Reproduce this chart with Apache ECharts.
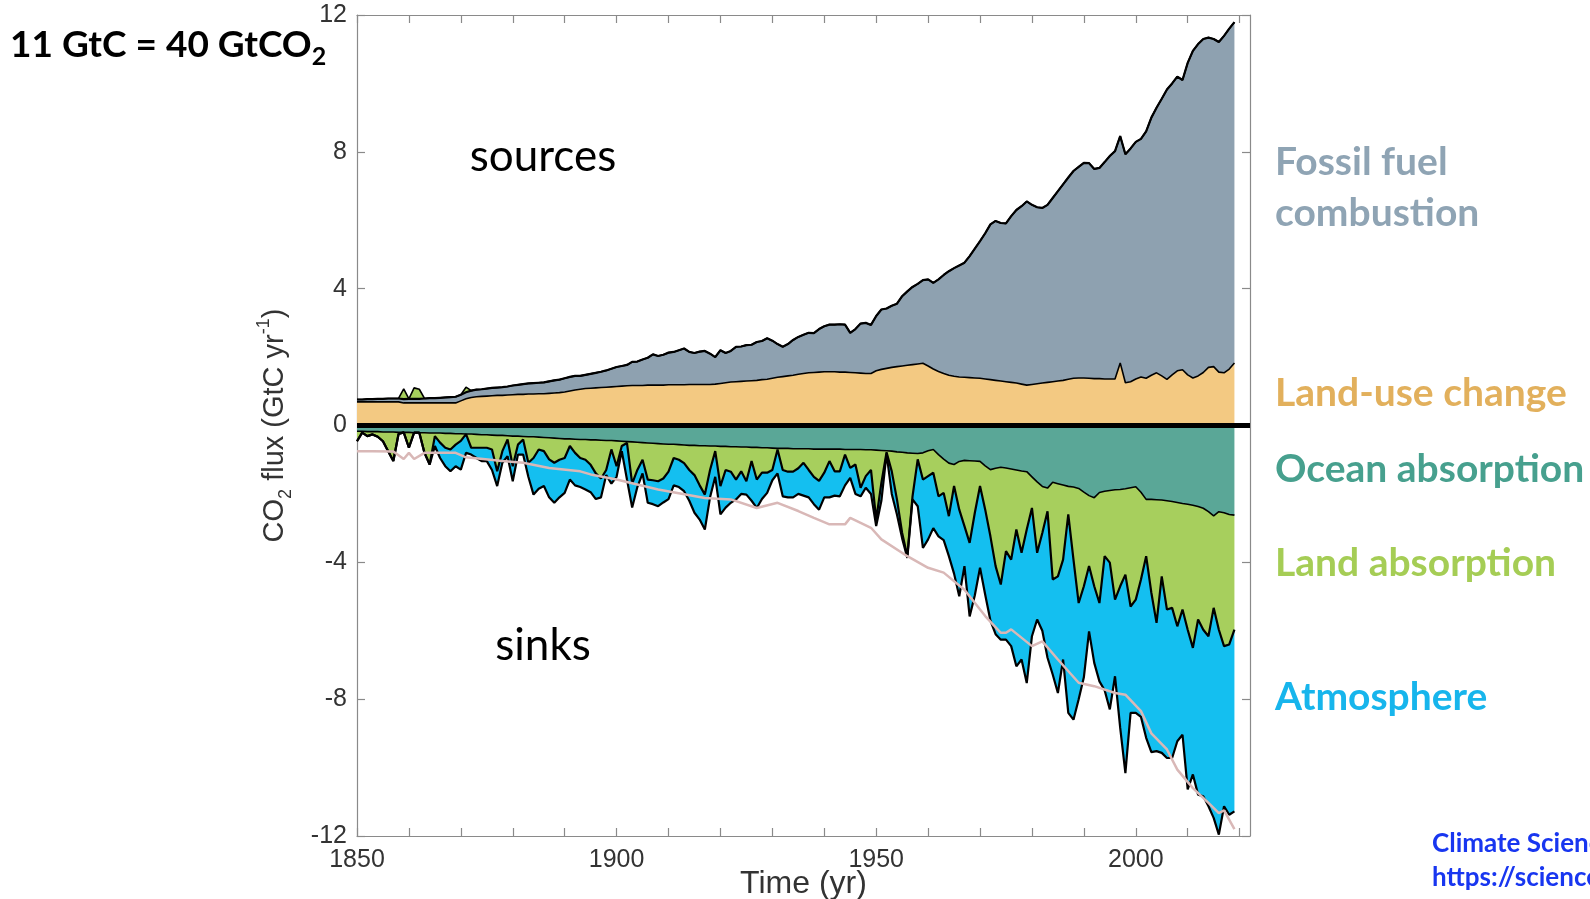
<!DOCTYPE html>
<html><head><meta charset="utf-8">
<script src="https://cdn.jsdelivr.net/npm/echarts@6.0.0/dist/echarts.min.js"></script>
<style>html,body{margin:0;padding:0;background:#fff;}#chart{width:1590px;height:899px;}</style>
</head><body><div id="chart"></div>
<script>
// ---------- data (GtC per year), 1850..2019 ----------
const startYear = 1850;
const axisEndYear = 2022;

const fossilFuel = [
 .07,.07,.08,.08,.09,.09,.10,.10,.10,.11,
 .12,.12,.12,.13,.14,.14,.15,.16,.17,.18,
 .18,.19,.20,.21,.21,.22,.23,.23,.24,.25,
 .27,.28,.30,.31,.32,.32,.33,.35,.37,.38,
 .40,.41,.41,.39,.40,.42,.44,.46,.49,.53,
 .57,.59,.61,.69,.70,.76,.80,.90,.85,.89,
 .94,.96,1.01,1.06,.95,.92,.96,.98,.90,.79,
 .97,.87,.91,1.02,1.02,1.05,1.05,1.12,1.13,1.20,
 1.10,.97,.87,.93,1.03,1.09,1.13,1.17,1.15,1.26,
 1.33,1.38,1.38,1.40,1.39,1.16,1.28,1.45,1.48,1.42,
 1.60,1.75,1.75,1.80,1.84,2.04,2.16,2.27,2.34,2.43,
 2.53,2.52,2.69,2.88,3.04,3.16,3.26,3.35,3.55,3.78,
 4.01,4.26,4.54,4.66,4.62,4.63,4.86,5.06,5.20,5.37,
 5.25,5.16,5.12,5.19,5.37,5.55,5.73,5.90,6.06,6.17,
 6.29,6.29,6.13,6.16,6.34,6.52,6.66,6.63,6.68,6.82,
 6.93,6.96,7.22,7.53,7.75,8.10,8.47,8.52,8.60,8.47,
 9.12,9.56,9.70,9.75,9.64,9.58,9.65,9.85,9.95,9.96
];
const landUse = [
 .69,.69,.69,.69,.69,.69,.69,.69,.69,.66,
 .66,.66,.66,.66,.66,.66,.66,.66,.66,.66,
 .72,.78,.82,.84,.85,.86,.87,.88,.88,.89,
 .90,.91,.91,.92,.92,.93,.93,.94,.95,.96,
 .98,1.01,1.04,1.06,1.08,1.09,1.10,1.11,1.12,1.13,
 1.14,1.15,1.16,1.17,1.17,1.17,1.18,1.18,1.18,1.18,
 1.19,1.19,1.19,1.19,1.20,1.20,1.20,1.20,1.20,1.21,
 1.23,1.25,1.27,1.28,1.29,1.30,1.31,1.32,1.34,1.35,
 1.38,1.41,1.43,1.45,1.47,1.50,1.52,1.54,1.55,1.56,
 1.57,1.57,1.57,1.56,1.56,1.55,1.54,1.53,1.52,1.52,
 1.60,1.64,1.67,1.70,1.72,1.74,1.76,1.78,1.80,1.82,
 1.74,1.65,1.58,1.52,1.47,1.44,1.42,1.41,1.40,1.39,
 1.38,1.36,1.34,1.32,1.30,1.28,1.26,1.24,1.21,1.18,
 1.20,1.22,1.24,1.26,1.28,1.30,1.32,1.35,1.38,1.39,
 1.39,1.38,1.37,1.37,1.36,1.36,1.36,1.83,1.25,1.28,
 1.36,1.42,1.38,1.47,1.54,1.45,1.35,1.48,1.60,1.63,
 1.48,1.39,1.45,1.55,1.70,1.72,1.56,1.54,1.65,1.83
];
// years in which the land acted as a source (drawn above the emissions)
const landSourceYears = [1859, 1861, 1862, 1871];
const landSourceValues = [0.30, 0.32, 0.28, 0.15];

const oceanSink = [
 -.17,-.17,-.18,-.18,-.18,-.19,-.19,-.19,-.20,-.20,
 -.20,-.21,-.21,-.21,-.22,-.22,-.22,-.23,-.23,-.24,
 -.24,-.25,-.25,-.26,-.27,-.27,-.28,-.29,-.29,-.30,
 -.31,-.31,-.32,-.33,-.33,-.34,-.35,-.36,-.37,-.38,
 -.39,-.39,-.40,-.41,-.41,-.42,-.42,-.43,-.44,-.44,
 -.45,-.46,-.47,-.48,-.49,-.50,-.51,-.52,-.53,-.54,
 -.55,-.55,-.56,-.57,-.58,-.58,-.59,-.59,-.60,-.60,
 -.61,-.61,-.62,-.62,-.63,-.63,-.64,-.64,-.65,-.65,
 -.66,-.67,-.67,-.67,-.68,-.68,-.68,-.68,-.69,-.69,
 -.69,-.69,-.69,-.69,-.70,-.70,-.70,-.70,-.71,-.71,
 -.72,-.73,-.74,-.75,-.77,-.78,-.80,-.81,-.82,-.80,
 -.74,-.70,-.85,-.98,-1.10,-1.14,-1.05,-1.02,-1.03,-1.04,
 -1.05,-1.18,-1.29,-1.25,-1.22,-1.24,-1.27,-1.30,-1.33,-1.35,
 -1.50,-1.65,-1.78,-1.83,-1.66,-1.70,-1.74,-1.78,-1.80,-1.84,
 -1.95,-2.05,-2.11,-1.96,-1.92,-1.90,-1.88,-1.87,-1.85,-1.82,
 -1.79,-1.95,-2.16,-2.16,-2.17,-2.18,-2.20,-2.22,-2.25,-2.28,
 -2.30,-2.33,-2.37,-2.42,-2.52,-2.64,-2.52,-2.55,-2.60,-2.62
];
const landSink = [
 -.29,-.04,-.13,-.08,-.15,-.27,-.56,-.85,-.05,0,
 -.45,0,0,-.59,-.92,-.09,-.28,-.42,-.47,-.32,
 -.21,0,-.40,-.39,-.38,-.38,-.42,-1.05,-.46,-.11,
 -.88,-.25,-.09,-.76,-.62,-.36,-.40,-.63,-.72,-.62,
 -.56,-.21,-.40,-.54,-.59,-.73,-.98,-1.12,-.86,-.26,
 -.74,-.14,-.04,-1.22,-.81,-.50,-1.07,-1.08,-1.10,-1.01,
 -.80,-.40,-.44,-.53,-.72,-.87,-1.16,-1.43,-.70,-.15,
 -1.16,-.69,-.73,-.96,-.71,-1.00,-.40,-.94,-.73,-.73,
 -.64,-.03,-.63,-.68,-.67,-.57,-.41,-.62,-.81,-.93,
 -.69,-.35,-.65,-.65,-.15,-.54,-.44,-1.12,-.77,-.59,
 -2.03,-.95,-.04,-.59,-1.39,-2.36,-3.02,-1.26,-.17,-.78,
 -.74,-.68,-1.22,-.99,-1.55,-.63,-1.41,-1.92,-2.40,-1.51,
 -.72,-1.28,-1.95,-2.86,-3.43,-2.43,-2.65,-1.74,-2.39,-1.69,
 -.91,-2.07,-1.36,-.68,-2.84,-2.71,-2.18,-.82,-2.12,-3.35,
 -2.75,-2.06,-2.59,-3.23,-1.90,-2.11,-3.21,-2.83,-2.51,-3.47,
 -3.30,-2.55,-1.66,-2.73,-3.60,-2.23,-3.18,-3.11,-3.62,-3.10,
 -3.67,-4.17,-3.30,-3.55,-3.64,-2.69,-3.45,-3.90,-3.80,-3.35
];
const atmosphere = [
 0,0,0,0,0,0,0,0,0,0,
 0,0,0,0,0,-.29,-.45,-.54,-.64,-.63,
 -.84,-.55,-.20,-.30,-.39,-.39,-.60,-.43,-.34,-.49,
 -.44,-.29,-.44,-.41,-1.07,-1.15,-1.02,-1.11,-1.17,-1.10,
 -1.02,-.98,-.95,-.85,-.87,-.80,-.75,-.55,-.15,-1.00,
 -.31,-.15,-1.07,-.70,-.50,-.40,-.68,-.70,-.73,-.70,
 -.80,-.80,-.80,-.82,-.90,-1.10,-1.00,-1.02,-.80,-.75,
 -.83,-1.10,-.91,-.58,-.66,-.39,-1.16,-.83,-.77,-.59,
 -.30,-.70,-.77,-.75,-.75,-.75,-.96,-.80,-.80,-.84,
 -.72,-1.06,-.71,-.73,-.90,-.29,-.86,-.25,-.34,-.70,
 -.19,-.52,-.04,-.66,-.44,-.16,-.05,-.09,-1.37,-2.00,
 -1.85,-1.62,-1.17,-1.38,-1.17,-2.56,-2.53,-1.17,-2.15,-2.41,
 -2.39,-2.49,-2.46,-1.99,-1.61,-2.59,-2.53,-4.00,-3.12,-4.49,
 -3.75,-1.95,-2.86,-4.28,-2.78,-3.41,-2.92,-5.80,-4.68,-2.81,
 -2.66,-1.91,-2.24,-2.29,-3.92,-4.29,-2.24,-4.14,-5.80,-3.11,
 -3.31,-4.02,-5.31,-4.66,-3.75,-5.16,-4.34,-4.39,-3.36,-3.66,
 -4.67,-3.70,-5.12,-4.87,-4.97,-6.14,-5.99,-4.68,-4.98,-5.31
];
// mirrored total emissions (light line in the sinks)
const mirrorYears = [1850,1853,1857,1859,1860,1861,1863,1869,1871,1878,1882,1887,1893,1895,1900,1908,1917,1922,1927,1931,1935,1938,1941,1944,1945,1949,1951,1956,1960,1963,1967,1971,1974,1975,1976,1980,1982,1985,1989,1992,1996,1998,2001,2003,2006,2008,2011,2014,2016,2017,2019];
const mirrorValues = [-0.75,-0.75,-0.76,-0.98,-0.80,-0.98,-0.80,-0.80,-0.93,-1.04,-1.09,-1.24,-1.34,-1.43,-1.58,-1.87,-2.12,-2.16,-2.41,-2.26,-2.50,-2.70,-2.89,-2.89,-2.70,-2.99,-3.33,-3.82,-4.16,-4.30,-4.80,-5.57,-6.06,-6.06,-5.96,-6.45,-6.31,-6.84,-7.52,-7.62,-7.82,-7.87,-8.35,-9.00,-9.47,-10.06,-10.60,-11.03,-11.33,-11.25,-11.80];

const yTicks = [-12, -8, -4, 0, 4, 8, 12];

// ---------- build ----------
const categories = [];
for (let y = startYear; y <= axisEndYear; y++) categories.push(String(y));
const landSource = fossilFuel.map((_, i) => {
  const k = landSourceYears.indexOf(startYear + i);
  return k >= 0 ? landSourceValues[k] : 0;
});
const mirrorData = mirrorYears.map((y, i) => [String(y), mirrorValues[i]]);

const AX = '#8a8a8a';
const TXT = '#333333';
const tickEvery10 = (i, v) => Number(v) % 10 === 0;
const common = {
  axisLine: { show: true, onZero: false, lineStyle: { color: AX, width: 1.2 } },
  axisTick: { show: true, inside: true, length: 8, lineStyle: { color: AX, width: 1.2 } },
  splitLine: { show: false }
};

function area(name, data, color, stack, lw) {
  return {
    name, type: 'line', data, stack, stackStrategy: 'all', symbol: 'none', showSymbol: false,
    lineStyle: { color: '#000', width: lw }, areaStyle: { color, opacity: 1 },
    emphasis: { disabled: true }, silent: true
  };
}

const LABEL_FONT = 39;
const chart = echarts.init(document.getElementById('chart'), null, { renderer: 'canvas' });
chart.setOption({
  animation: false,
  backgroundColor: '#fff',
  grid: { left: 357, right: 340, top: 15, bottom: 63, containLabel: false, outerBoundsMode: 'none' },
  xAxis: [
    Object.assign({}, common, {
      type: 'category', data: categories, boundaryGap: false, position: 'bottom',
      axisTick: Object.assign({}, common.axisTick, { interval: tickEvery10 }),
      axisLabel: { interval: (i, v) => Number(v) % 50 === 0, fontSize: 25, color: TXT, margin: 12, fontFamily: 'Liberation Sans' },
      name: 'Time (yr)', nameLocation: 'middle', nameGap: 32, nameMoveOverlap: false,
      nameTextStyle: { fontSize: 32, color: TXT, fontFamily: 'Liberation Sans' }
    }),
    Object.assign({}, common, {
      type: 'category', data: categories, boundaryGap: false, position: 'top',
      axisTick: Object.assign({}, common.axisTick, { interval: tickEvery10 }),
      axisLabel: { show: false }
    })
  ],
  yAxis: [
    Object.assign({}, common, {
      type: 'value', min: yTicks[0], max: yTicks[yTicks.length - 1], interval: 4, position: 'left',
      axisLabel: { fontSize: 25, color: TXT, margin: 10, fontFamily: 'Liberation Sans' },
      name: '{m|CO}{sb|2}{m| flux (GtC yr}{sp|-1}{m|)}',
      nameLocation: 'middle', nameGap: 62, nameRotate: 90,
      nameTextStyle: {
        color: TXT, fontFamily: 'Liberation Sans',
        rich: {
          m: { fontSize: 29, lineHeight: 40, color: TXT, fontFamily: 'Liberation Sans' },
          sb: { fontSize: 18, lineHeight: 18, verticalAlign: 'bottom', color: TXT, fontFamily: 'Liberation Sans' },
          sp: { fontSize: 18, lineHeight: 18, verticalAlign: 'top', color: TXT, fontFamily: 'Liberation Sans' }
        }
      }
    }),
    Object.assign({}, common, {
      type: 'value', min: yTicks[0], max: yTicks[yTicks.length - 1], interval: 4, position: 'right',
      axisLabel: { show: false }
    })
  ],
  series: [
    area('Land-use change', landUse, '#f3c982', 'sources', 1.6),
    area('Fossil fuel combustion', fossilFuel, '#8ea1b0', 'sources', 2.2),
    area('Land source', landSource, '#a7cf5d', 'sources', 1.6),
    area('Ocean absorption', oceanSink, '#5aa797', 'sinks', 1.6),
    area('Land absorption', landSink, '#a7cf5d', 'sinks', 2.2),
    area('Atmosphere', atmosphere, '#14bff0', 'sinks', 2.2),
    {
      name: 'Emissions (mirrored)', type: 'line', data: mirrorData, symbol: 'none', showSymbol: false,
      lineStyle: { color: '#d9b8b7', width: 2.5 }, silent: true, z: 3,
      markLine: {
        silent: true, symbol: 'none', label: { show: false },
        lineStyle: { color: '#000', width: 5, type: 'solid' },
        data: [{ yAxis: 0 }]
      }
    }
  ],
  graphic: [
    { type: 'text', x: 10, y: 45, style: {
        text: '{a|11 GtC = 40 GtCO}{s|2}', align: 'left', verticalAlign: 'middle',
        rich: {
          a: { fontSize: 37, fontWeight: 'bold', fontFamily: 'Lato', lineHeight: 48, fill: '#000' },
          s: { fontSize: 25, fontWeight: 'bold', fontFamily: 'Lato', lineHeight: 24, verticalAlign: 'bottom', fill: '#000' }
        } } },
    { type: 'text', x: 543, y: 157, style: { text: 'sources', fontSize: 44, fontFamily: 'Lato', fill: '#000', align: 'center', verticalAlign: 'middle' } },
    { type: 'text', x: 543, y: 646, style: { text: 'sinks', fontSize: 44, fontFamily: 'Lato', fill: '#000', align: 'center', verticalAlign: 'middle' } },
    { type: 'text', x: 1275, y: 162, style: { text: 'Fossil fuel', fontSize: LABEL_FONT, fontWeight: 'bold', fontFamily: 'Lato', fill: '#8fa4b4', align: 'left', verticalAlign: 'middle' } },
    { type: 'text', x: 1275, y: 213, style: { text: 'combustion', fontSize: LABEL_FONT, fontWeight: 'bold', fontFamily: 'Lato', fill: '#8fa4b4', align: 'left', verticalAlign: 'middle' } },
    { type: 'text', x: 1275, y: 393, style: { text: 'Land-use change', fontSize: LABEL_FONT, fontWeight: 'bold', fontFamily: 'Lato', fill: '#e2b05c', align: 'left', verticalAlign: 'middle' } },
    { type: 'text', x: 1275, y: 469, style: { text: 'Ocean absorption', fontSize: LABEL_FONT, fontWeight: 'bold', fontFamily: 'Lato', fill: '#47a08e', align: 'left', verticalAlign: 'middle' } },
    { type: 'text', x: 1275, y: 563, style: { text: 'Land absorption', fontSize: LABEL_FONT, fontWeight: 'bold', fontFamily: 'Lato', fill: '#a5cd55', align: 'left', verticalAlign: 'middle' } },
    { type: 'text', x: 1275, y: 697, style: { text: 'Atmosphere', fontSize: LABEL_FONT, fontWeight: 'bold', fontFamily: 'Lato', fill: '#17b5ec', align: 'left', verticalAlign: 'middle' } },
    { type: 'text', x: 1432, y: 844, style: { text: 'Climate Science Special Report', fontSize: 26, fontWeight: 'bold', fontFamily: 'Lato', fill: '#1836f0', align: 'left', verticalAlign: 'middle' } },
    { type: 'text', x: 1432, y: 878, style: { text: 'https://science2017.globalchange.gov/', fontSize: 26, fontWeight: 'bold', fontFamily: 'Lato', fill: '#1836f0', align: 'left', verticalAlign: 'middle' } }
  ]
});
</script>
</body></html>
